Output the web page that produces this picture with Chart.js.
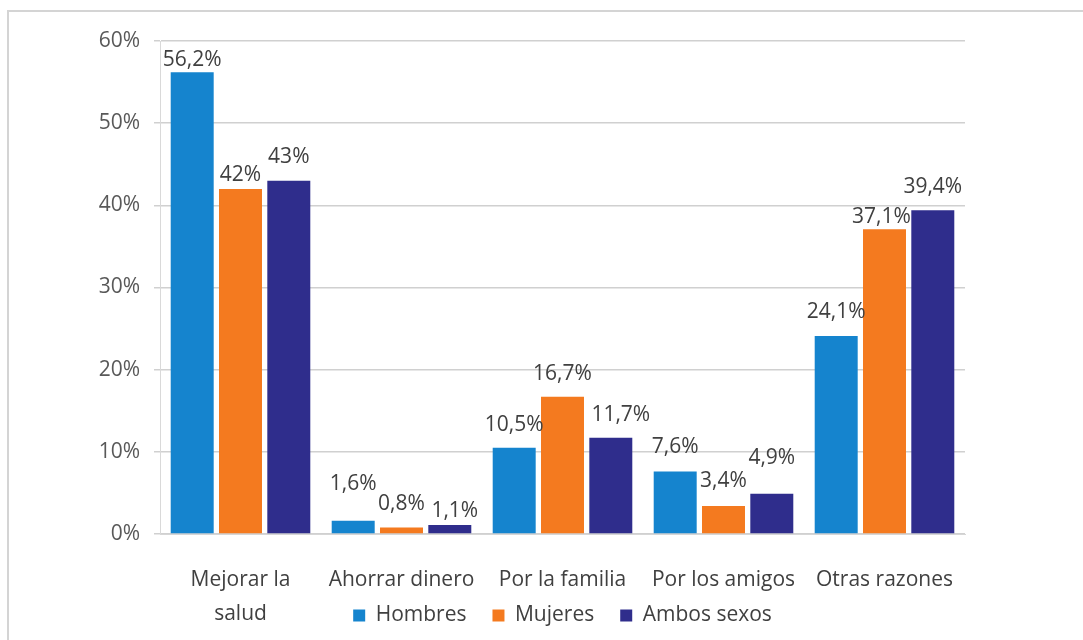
<!DOCTYPE html>
<html>
<head>
<meta charset="utf-8">
<script src="https://cdn.jsdelivr.net/npm/chart.js@4.4.1/dist/chart.umd.min.js"></script>
<style>
  html, body { margin: 0; padding: 0; background: #ffffff; }
  #wrap { position: relative; width: 1083px; height: 640px; overflow: hidden; }
  #frame { position: absolute; left: 7px; top: 10px; width: 1200px; height: 800px;
           border-left: 2px solid #d4d4d4; border-top: 2px solid #d4d4d4; }
  #c { position: absolute; left: 0; top: 0; }
</style>
</head>
<body>
<div id="wrap">
  <div id="frame"></div>
  <canvas id="c" width="1083" height="640"></canvas>
</div>
<script>
// ---- data ----
const categories = [["Mejorar la", "salud"], "Ahorrar dinero", "Por la familia", "Por los amigos", "Otras razones"];
const seriesNames = ["Hombres", "Mujeres", "Ambos sexos"];
const hombres = [56.2, 1.6, 10.5, 7.6, 24.1];
const mujeres = [42, 0.8, 16.7, 3.4, 37.1];
const ambos = [43, 1.1, 11.7, 4.9, 39.4];
const yTickValues = [0, 10, 20, 30, 40, 50, 60];

const FONT = "'Open Sans', 'Liberation Sans', sans-serif";

const barLabels = {
  id: 'barLabels',
  afterDatasetsDraw(chart, args, opts) {
    const ctx = chart.ctx;
    ctx.save();
    ctx.font = opts.size + 'px ' + FONT;
    ctx.fillStyle = opts.color;
    ctx.textAlign = 'center';
    ctx.textBaseline = 'middle';
    chart.data.datasets.forEach((ds, di) => {
      const meta = chart.getDatasetMeta(di);
      meta.data.forEach((bar, i) => {
        const v = ds.data[i];
        const txt = String(v).replace('.', ',') + '%';
        const rise = (opts.rise[di] && opts.rise[di][i] != null) ? opts.rise[di][i] : 23;
        const dx = (opts.shift[di] && opts.shift[di][i]) ? opts.shift[di][i] : 0;
        ctx.fillText(txt, bar.x + dx, bar.y - rise);
      });
    });
    ctx.restore();
  }
};

// let the x tick labels run below the (shortened) axis box, next to the legend
const unclipX = {
  id: 'unclipX',
  afterLayout(chart) {
    chart.scales.x.bottom = chart.height;
  }
};

new Chart(document.getElementById('c'), {
  type: 'bar',
  data: {
    labels: categories,
    datasets: [
      { label: seriesNames[0], data: hombres, backgroundColor: '#1584ce' },
      { label: seriesNames[1], data: mujeres, backgroundColor: '#f47a1f' },
      { label: seriesNames[2], data: ambos, backgroundColor: '#2f2d8c' }
    ]
  },
  options: {
    responsive: false,
    devicePixelRatio: 1,
    animation: false,
    layout: { padding: { left: 0, right: 118, top: 41, bottom: 4 } },
    datasets: { bar: { categoryPercentage: 0.9, barPercentage: 0.89 } },
    scales: {
      x: {
        grid: { display: false, drawTicks: false },
        border: { display: true, color: '#d6d6d6', width: 1 },
        ticks: { color: '#404040', padding: 29, font: { family: FONT, size: 21, lineHeight: 1.62 }, maxRotation: 0, autoSkip: false },
        afterFit(scale) { scale.height = 45; }
      },
      y: {
        min: 0, max: 60,
        afterBuildTicks(scale) { scale.ticks = yTickValues.map(v => ({ value: v })); },
        grid: { color: '#d0d0d0', lineWidth: 1.5, drawTicks: true, tickLength: 6 },
        border: { display: true, color: '#d9d9d9', width: 1 },
        ticks: { color: '#595959', padding: 14, font: { family: FONT, size: 21 }, callback: v => v + '%' },
        afterFit(scale) { scale.width = 160; }
      }
    },
    plugins: {
      tooltip: { enabled: false },
      legend: {
        position: 'bottom',
        fullSize: false,
        labels: {
          boxWidth: 12, boxHeight: 12, padding: 26, color: '#404040',
          font: { family: FONT, size: 21 }
        }
      },
      barLabels: {
        size: 21, color: '#404040',
        rise: [[12, 37, 23, 25, 24], [14, 23, 23, 25, 12], [24, 14, 23, 36, 23]],
        shift: [[0, 0, 0, 0, 0], [0, 0, 0, 0, -3], [0, 5, 10, 0, 0]]
      }
    }
  },
  plugins: [barLabels, unclipX]
});
</script>
</body>
</html>
